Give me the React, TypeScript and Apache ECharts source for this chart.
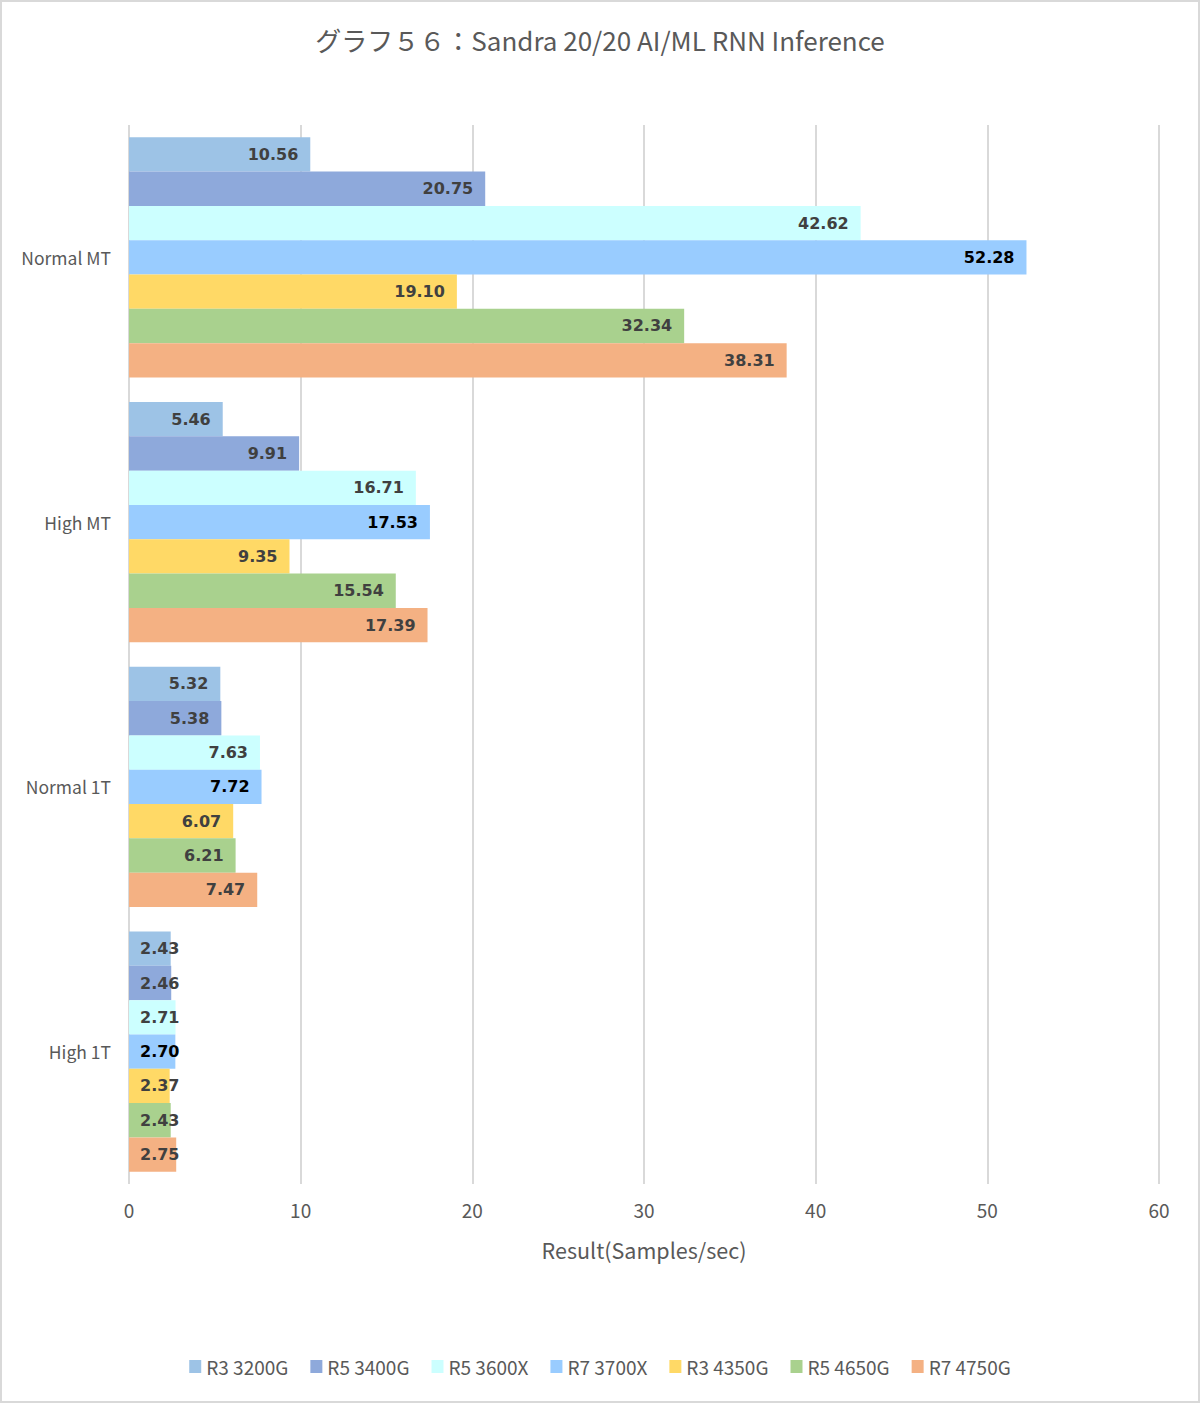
import React, { useEffect, useRef } from "react";
import * as echarts from "echarts";

const categories = ["Normal MT", "High MT", "Normal 1T", "High 1T"];
const seriesNames = ["R3 3200G", "R5 3400G", "R5 3600X", "R7 3700X", "R3 4350G", "R5 4650G", "R7 4750G"];
const r3_3200g = [10.56, 5.46, 5.32, 2.43];
const r5_3400g = [20.75, 9.91, 5.38, 2.46];
const r5_3600x = [42.62, 16.71, 7.63, 2.71];
const r7_3700x = [52.28, 17.53, 7.72, 2.7];
const r3_4350g = [19.1, 9.35, 6.07, 2.37];
const r5_4650g = [32.34, 15.54, 6.21, 2.43];
const r7_4750g = [38.31, 17.39, 7.47, 2.75];
const seriesValues = [r3_3200g, r5_3400g, r5_3600x, r7_3700x, r3_4350g, r5_4650g, r7_4750g];
const colors = ["#9DC3E6", "#8EA9DB", "#CCFFFF", "#99CCFF", "#FFD966", "#A9D18E", "#F4B183"];
const labelColors = ["#404040", "#404040", "#404040", "#000000", "#404040", "#404040", "#404040"];
const xTicks = [0, 10, 20, 30, 40, 50, 60];

const FONT = "'Noto Sans CJK JP', 'Noto Sans', sans-serif";

export default function App() {
  const ref = useRef<HTMLDivElement>(null);
  useEffect(() => {
    if (!ref.current) return;
    const chart = echarts.init(ref.current, undefined, { renderer: "svg" });
    const series = seriesNames.map((name, i) => ({
      name,
      type: "bar",
      barGap: "0%",
      barCategoryGap: "9.3%",
      itemStyle: { color: colors[i] },
      data: seriesValues[i].map((v) => ({
        value: v,
        label: v < 4
          ? { position: "insideLeft", distance: 11 }
          : { position: "insideRight", distance: 12 },
      })),
      label: {
        show: true,
        formatter: (p: any) => Number(p.value).toFixed(2),
        fontFamily: "'DejaVu Sans', Verdana, sans-serif",
        fontWeight: "bold",
        fontSize: 16,
        color: labelColors[i],
      },
    }));
    chart.setOption({
      animation: false,
      backgroundColor: "#ffffff",
      textStyle: { fontFamily: FONT },
      title: {
        text: "グラフ５６：Sandra 20/20 AI/ML RNN Inference",
        left: "center",
        top: 21,
        textStyle: { fontFamily: FONT, fontSize: 26, fontWeight: "normal", color: "#595959" },
      },
      legend: {
        bottom: 22,
        left: "center",
        itemWidth: 12,
        itemHeight: 13,
        itemGap: 22,
        icon: "rect",
        textStyle: { fontFamily: FONT, fontSize: 19, color: "#595959" },
        data: seriesNames,
      },
      grid: { left: 129, right: 41, top: 125, bottom: 219, containLabel: false },
      xAxis: {
        type: "value",
        min: xTicks[0],
        max: xTicks[xTicks.length - 1],
        interval: 10,
        name: "Result(Samples/sec)",
        nameLocation: "middle",
        nameGap: 55,
        nameTextStyle: { fontFamily: FONT, fontSize: 21.5, color: "#595959" },
        axisLine: { show: false },
        axisTick: { show: false },
        axisLabel: { fontFamily: FONT, fontSize: 19, color: "#595959", margin: 16 },
        splitLine: { show: true, lineStyle: { color: "#D9D9D9", width: 2 } },
      },
      yAxis: {
        type: "category",
        data: categories,
        inverse: true,
        axisLine: { show: false },
        axisTick: { show: false },
        axisLabel: { fontFamily: FONT, fontSize: 17.5, color: "#595959", margin: 18 },
      },
      graphic: [
        {
          type: "rect",
          shape: { x: 1, y: 1, width: 1198, height: 1401 },
          style: { fill: "none", stroke: "#D9D9D9", lineWidth: 2 },
          silent: true,
          z: 100,
        },
      ],
      series,
    });
    return () => chart.dispose();
  }, []);
  return (
    <div
      ref={ref}
      style={{ position: "absolute", left: 0, top: 0, width: 1200, height: 1403 }}
    />
  );
}
